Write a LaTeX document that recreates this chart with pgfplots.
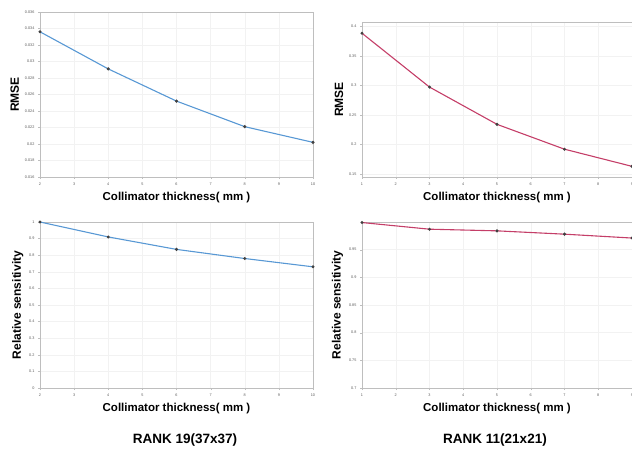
\documentclass[border=0pt]{standalone}
\usepackage{pgfplots}
\pgfplotsset{compat=1.18}
\usepackage{fontspec}
\setmainfont{Liberation Sans}
\definecolor{lineblue}{RGB}{88,152,212}
\definecolor{linered}{RGB}{196,62,104}
\definecolor{axgray}{RGB}{190,190,190}
\pgfplotsset{
  panel/.style={
    scale only axis,
    anchor=south west,
    axis line style={axgray},
    tick style={axgray, major tick length=2pt},
    tick align=outside,
    xtick pos=bottom, ytick pos=left,
    ticklabel style={font=\fontsize{3.8}{4}\selectfont, text=gray!70!black},
    /pgf/number format/assume math mode=true,
    scaled y ticks=false,
    grid=major,
    grid style={gray!10},
    xlabel={Collimator thickness( mm )},
    xlabel style={font=\bfseries\fontsize{11.5}{13}\selectfont, yshift=0pt},
    ylabel style={font=\bfseries\fontsize{12}{13}\selectfont, yshift=-1pt},
    clip=false,
  },
  blueline/.style={color=lineblue, line width=1.1pt, mark=*, mark size=0.9pt,
    mark options={fill=gray!50!black, draw=gray!50!black}},
  redline/.style={color=linered, line width=1.1pt, mark=*, mark size=0.9pt,
    mark options={fill=gray!50!black, draw=gray!50!black}},
}
\begin{document}
\begin{tikzpicture}
\useasboundingbox (0pt,0pt) rectangle (632pt,450pt);
% top left
\begin{axis}[panel, at={(40pt,273pt)}, width=273pt, height=165pt,
  xmin=2, xmax=10, xtick={2,...,10},
  ymin=0.016, ymax=0.036,
  ytick={0.016,0.018,0.020,0.022,0.024,0.026,0.028,0.030,0.032,0.034,0.036},
  yticklabel style={/pgf/number format/fixed, /pgf/number format/precision=3},
  ylabel={RMSE}]
\addplot[blueline] coordinates {(2,0.0336) (4,0.0291) (6,0.0252) (8,0.0221) (10,0.0202)};
\end{axis}
% top right
\begin{axis}[panel, at={(362pt,273pt)}, width=270pt, height=155pt,
  xmin=1, xmax=9, xtick={1,...,9},
  ymin=0.145, ymax=0.407,
  ytick={0.15,0.2,0.25,0.3,0.35,0.4},
  yticklabel style={/pgf/number format/fixed, /pgf/number format/precision=2},
  ylabel={RMSE}]
\addplot[redline] coordinates {(1,0.388) (3,0.297) (5,0.234) (7,0.192) (9,0.163)};
\end{axis}
% bottom left
\begin{axis}[panel, at={(40pt,62pt)}, width=273pt, height=166pt,
  xmin=2, xmax=10, xtick={2,...,10},
  ymin=0, ymax=1, ytick={0,0.1,0.2,0.3,0.4,0.5,0.6,0.7,0.8,0.9,1.0},
  yticklabel style={/pgf/number format/fixed, /pgf/number format/precision=1},
  ylabel={Relative sensitivity}]
\addplot[blueline] coordinates {(2,1.0) (4,0.91) (6,0.835) (8,0.78) (10,0.73)};
\end{axis}
% bottom right
\begin{axis}[panel, at={(362pt,62pt)}, width=270pt, height=166pt,
  xmin=1, xmax=9, xtick={1,...,9},
  ymin=0.7, ymax=1.0, ytick={0.7,0.75,0.8,0.85,0.9,0.95},
  yticklabel style={/pgf/number format/fixed, /pgf/number format/precision=2},
  ylabel={Relative sensitivity}]
\addplot[redline] coordinates {(1,0.999) (3,0.987) (5,0.984) (7,0.978) (9,0.971)};
\end{axis}
\node[font=\bfseries\fontsize{13.5}{15}\selectfont] at (185pt,10pt) {RANK 19(37x37)};
\node[font=\bfseries\fontsize{13.5}{15}\selectfont] at (495pt,10pt) {RANK 11(21x21)};
\end{tikzpicture}
\end{document}
